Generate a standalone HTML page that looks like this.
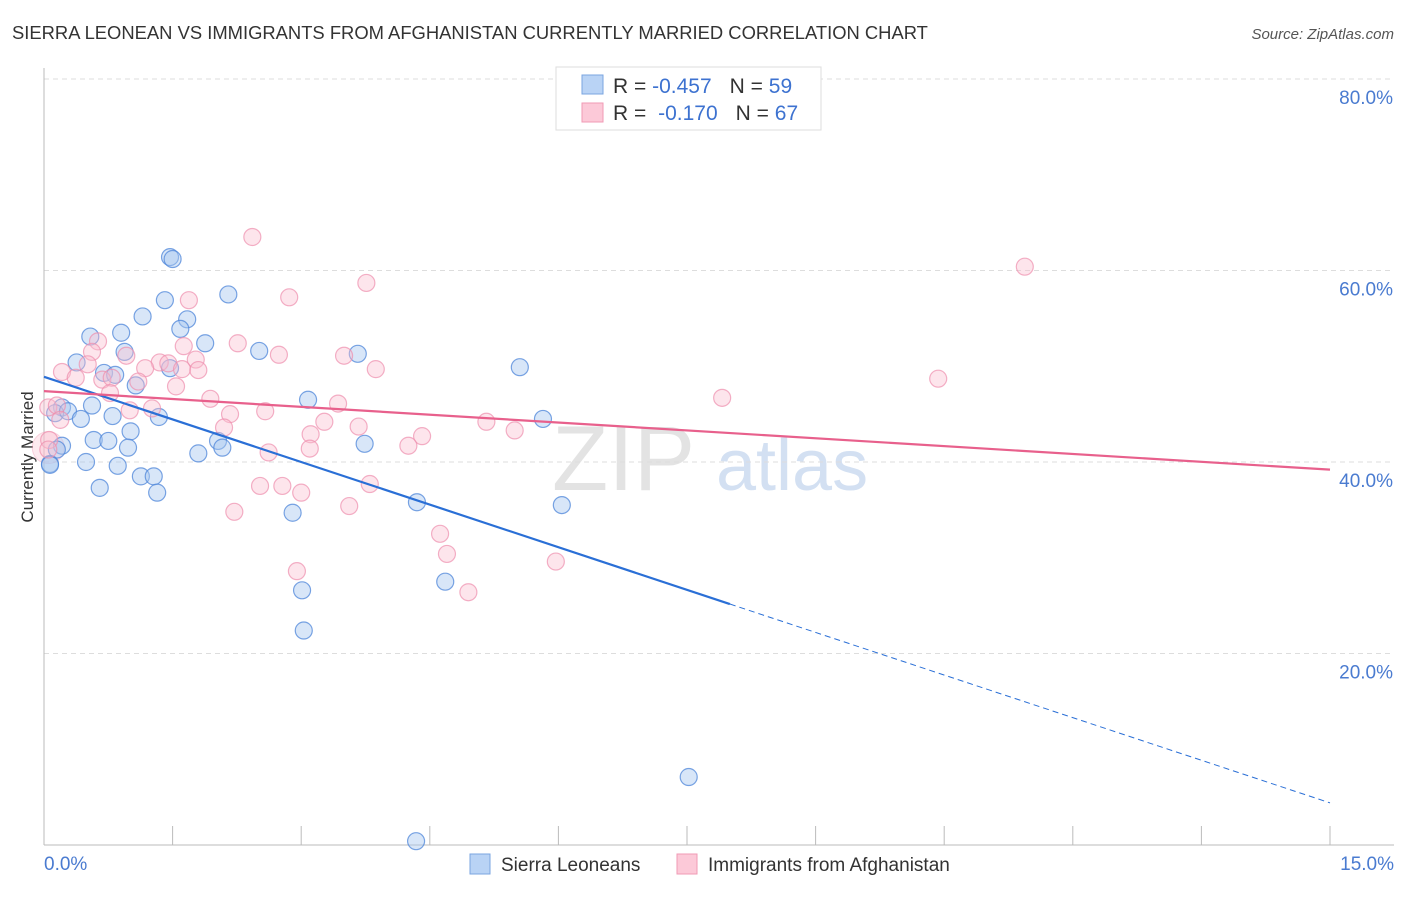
<!DOCTYPE html>
<html><head><meta charset="utf-8"><style>
body{margin:0;background:#fff;font-family:"Liberation Sans",sans-serif;}
svg text{font-family:"Liberation Sans",sans-serif;}
</style></head><body>
<svg id="chart" width="1406" height="892" xmlns="http://www.w3.org/2000/svg">
<text x="12" y="39" font-size="18.4" fill="#333">SIERRA LEONEAN VS IMMIGRANTS FROM AFGHANISTAN CURRENTLY MARRIED CORRELATION CHART</text>
<text x="1394" y="39" font-size="15" fill="#555" text-anchor="end" font-style="italic">Source: ZipAtlas.com</text>
<text x="0" y="0" font-size="17" fill="#333" text-anchor="middle" transform="translate(33,457) rotate(-90)">Currently Married</text>
<g>
<text x="552" y="490" font-size="92" fill="#ddd" font-family="Liberation Serif" opacity="0.8">ZIP</text>
<text x="716" y="490" font-size="72" fill="#c9d9f0" opacity="0.8">atlas</text>
</g>
<g id="grid"></g><g id="axes"></g><g id="pts"></g><g id="trend"></g>
<g>
<rect x="556" y="67" width="265" height="63" fill="#fff" stroke="#ddd"/>
<rect x="582" y="75" width="21" height="19" fill="#b9d3f5" stroke="#7aa4e0"/>
<rect x="582" y="103" width="21" height="19" fill="#fcc9d8" stroke="#f09ab5"/>
<text x="613" y="93" font-size="21" fill="#333">R = <tspan fill="#3d72d0">-0.457</tspan><tspan dx="18">N = </tspan><tspan fill="#3d72d0">59</tspan></text>
<text x="613" y="120" font-size="21" fill="#333">R = <tspan fill="#3d72d0" dx="6">-0.170</tspan><tspan dx="18">N = </tspan><tspan fill="#3d72d0">67</tspan></text>
</g>
<g>
<rect x="470" y="854" width="20" height="20" fill="#b9d3f5" stroke="#7aa4e0"/>
<text x="501" y="871" font-size="19" fill="#333">Sierra Leoneans</text>
<rect x="677" y="854" width="20" height="20" fill="#fcc9d8" stroke="#f09ab5"/>
<text x="708" y="871" font-size="19" fill="#333">Immigrants from Afghanistan</text>
</g>
</svg>
<script>
const yTicks=[20,40,60,80];
const yTickLabels=["20.0%","40.0%","60.0%","80.0%"];
const xTicks=[0,1.5,3,4.5,6,7.5,9,10.5,12,13.5,15];
const blueX=[1.47,1.50,1.41,2.15,1.15,1.67,1.59,0.54,0.90,1.88,0.38,0.94,2.51,3.66,5.55,0.70,0.83,1.47,1.07,3.08,0.21,0.56,0.13,0.28,0.43,0.80,1.34,5.82,1.01,0.58,0.75,2.03,2.08,3.74,0.21,0.15,0.98,1.80,0.07,0.49,0.86,1.13,1.28,0.65,1.32,4.35,6.04,2.90,4.68,3.01,3.03,7.52,4.34,0.07];
const blueY=[61.4,61.2,56.9,57.5,55.2,54.9,53.9,53.1,53.5,52.4,50.4,51.5,51.6,51.3,49.9,49.3,49.1,49.8,48.0,46.5,45.7,45.9,45.1,45.3,44.5,44.8,44.7,44.5,43.2,42.3,42.2,42.2,41.5,41.9,41.7,41.3,41.5,40.9,39.8,40.0,39.6,38.5,38.5,37.3,36.8,35.8,35.5,34.7,27.5,26.6,22.4,7.1,0.4,39.7];
const pinkX=[2.43,11.44,3.76,2.86,1.69,0.63,2.26,0.56,1.63,0.96,2.74,3.50,1.35,1.77,0.21,0.51,1.18,1.45,3.87,1.61,1.80,0.68,0.37,0.79,1.10,10.43,1.54,0.77,7.91,1.94,0.05,0.15,1.26,1.00,3.43,2.58,2.17,5.16,3.27,3.67,2.10,4.41,5.49,3.11,4.25,3.10,2.62,0.06,3.80,2.52,2.78,3.00,3.56,2.22,4.62,4.70,5.97,2.95,4.95,0.05,0.19];
const pinkY=[63.5,60.4,58.7,57.2,56.9,52.6,52.4,51.5,52.1,51.1,51.2,51.1,50.4,50.7,49.4,50.2,49.8,50.3,49.7,49.7,49.6,48.6,48.8,48.8,48.4,48.7,47.9,47.2,46.7,46.6,45.7,45.9,45.6,45.4,46.1,45.3,45.0,44.2,44.2,43.7,43.6,42.7,43.3,42.9,41.7,41.4,41.0,42.3,37.7,37.5,37.5,36.8,35.4,34.8,32.5,30.4,29.6,28.6,26.4,41.3,44.4];
const blueTrend=[48.9,4.4];
const pinkTrend=[47.4,39.2];
const NS="http://www.w3.org/2000/svg";
const X=v=>44+v/15*1286;
const Y=v=>845-v*9.575;
function mk(tag,attrs,parent){const e=document.createElementNS(NS,tag);for(const k in attrs)e.setAttribute(k,attrs[k]);document.getElementById(parent).appendChild(e);return e;}
yTicks.forEach((t,i)=>{
 const g=mk('line',{x1:44,x2:1394,y1:Y(t),y2:Y(t),stroke:'#ddd','stroke-dasharray':'5,4'},'grid');
 
 
 const l=mk('text',{x:1393,y:Y(t)+25,'font-size':19,fill:'#4a7bd0','text-anchor':'end'},'axes');
 l.textContent=yTickLabels[i];
 
 
});
const ax=mk('line',{x1:44,x2:44,y1:68,y2:845,stroke:'#bbb'},'axes');


const bx=mk('line',{x1:44,x2:1394,y1:845,y2:845,stroke:'#bbb'},'axes');


xTicks.forEach(t=>{
 const k=mk('line',{x1:X(t),x2:X(t),y1:826,y2:845,stroke:'#bbb'},'axes');
 
 
});
const xl0=mk('text',{x:44,y:870,'font-size':19,fill:'#4a7bd0'},'axes');xl0.textContent='0.0%';


const xl1=mk('text',{x:1394,y:870,'font-size':19,fill:'#4a7bd0','text-anchor':'end'},'axes');xl1.textContent='15.0%';


const big=mk('circle',{cx:X(0.05),cy:Y(41.5),r:16,fill:'#f7b8cb','fill-opacity':0.3,stroke:'#f09ab5','stroke-opacity':0.4},'pts');


blueX.forEach((x,i)=>{
 const c=mk('circle',{cx:X(x),cy:Y(blueY[i]),r:8.5,fill:'#a9c8f0','fill-opacity':0.45,stroke:'#4d86d9','stroke-opacity':0.75,'stroke-width':1.2},'pts');
 
 
});
pinkX.forEach((x,i)=>{
 const c=mk('circle',{cx:X(x),cy:Y(pinkY[i]),r:8.5,fill:'#f9bfd0','fill-opacity':0.4,stroke:'#ee8fae','stroke-opacity':0.7,'stroke-width':1.2},'pts');
 
 
});
const bY=x=>blueTrend[0]+(blueTrend[1]-blueTrend[0])*x/15;
const t1=mk('line',{x1:X(0),y1:Y(bY(0)),x2:X(8.0),y2:Y(bY(8.0)),stroke:'#2a6fd6','stroke-width':2.2},'trend');


const t2=mk('line',{x1:X(8.0),y1:Y(bY(8.0)),x2:X(15),y2:Y(bY(15)),stroke:'#2a6fd6','stroke-width':1,'stroke-dasharray':'6,4'},'trend');


const t3=mk('line',{x1:X(0),y1:Y(pinkTrend[0]),x2:X(15),y2:Y(pinkTrend[1]),stroke:'#e8608c','stroke-width':2.2},'trend');


</script>
</body></html>
